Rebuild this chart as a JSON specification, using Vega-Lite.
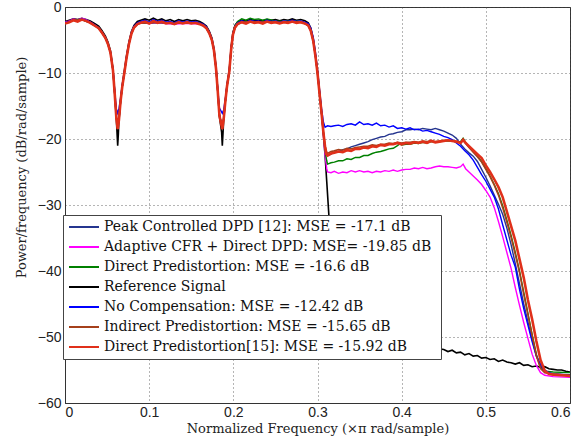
{
"$schema": "https://vega.github.io/schema/vega-lite/v6.json",
"width": 505, "height": 396,
"autosize": {"type": "none"},
"padding": {"left": 65, "top": 7, "right": 15, "bottom": 34},
"background": "white",
"config": {
 "view": {"stroke": "#333", "strokeWidth": 1},
 "axis": {"grid": true, "gridColor": "#444", "gridDash": [1, 3], "gridWidth": 0.8, "domainColor": "#333", "ticks": false,
  "labelFont": "Liberation Sans", "labelFontSize": 14, "labelColor": "#222",
  "titleFont": "DejaVu Serif", "titleFontSize": 13, "titleFontWeight": "normal", "titleColor": "#222"},
 "legend": {"fillColor": "white", "strokeColor": "#444", "padding": 5, "cornerRadius": 0, "symbolType": "stroke", "symbolSize": 900, "symbolStrokeWidth": 2, "clipHeight": 14, "rowPadding": 6, "labelFont": "DejaVu Serif", "labelFontSize": 14, "labelColor": "#111", "labelLimit": 600, "labelOffset": 4}
},
"datasets": {
 "black": [
  {"x":0,"y":-2.2},{"x":0.005,"y":-2.0},{"x":0.01,"y":-1.8},{"x":0.015,"y":-1.9},{"x":0.02,"y":-1.7},{"x":0.025,"y":-1.9},{"x":0.03,"y":-2.1},{"x":0.035,"y":-2.5},{"x":0.04,"y":-2.9},{"x":0.044,"y":-3.6},{"x":0.048,"y":-4.4},{"x":0.051,"y":-5.3},{"x":0.054,"y":-6.6},{"x":0.057,"y":-9.4},{"x":0.059,"y":-12.9},{"x":0.061,"y":-17.0},{"x":0.0618,"y":-19.0},{"x":0.0626,"y":-21.0},{"x":0.0634,"y":-19.2},{"x":0.064,"y":-17.4},{"x":0.066,"y":-14.2},{"x":0.068,"y":-11.9},{"x":0.0705,"y":-9.7},{"x":0.073,"y":-7.5},{"x":0.076,"y":-5.3},{"x":0.079,"y":-3.7},{"x":0.082,"y":-2.8},{"x":0.086,"y":-2.2},{"x":0.09,"y":-2.0},{"x":0.095,"y":-1.8},{"x":0.1,"y":-2.0},{"x":0.105,"y":-1.7},{"x":0.11,"y":-2.0},{"x":0.115,"y":-1.8},{"x":0.12,"y":-2.1},{"x":0.125,"y":-1.9},{"x":0.13,"y":-2.2},{"x":0.135,"y":-1.9},{"x":0.14,"y":-2.1},{"x":0.145,"y":-1.9},{"x":0.15,"y":-2.1},{"x":0.155,"y":-2.0},{"x":0.16,"y":-2.2},{"x":0.164,"y":-2.5},{"x":0.168,"y":-2.9},{"x":0.1715,"y":-3.7},{"x":0.1745,"y":-4.7},{"x":0.177,"y":-6.3},{"x":0.1795,"y":-9.2},{"x":0.1815,"y":-12.7},{"x":0.1835,"y":-16.6},{"x":0.1861,"y":-19.0},{"x":0.1869,"y":-21.0},{"x":0.1877,"y":-19.2},{"x":0.1885,"y":-17.2},{"x":0.1905,"y":-14.2},{"x":0.1925,"y":-11.8},{"x":0.1952,"y":-9.5},{"x":0.1975,"y":-6.0},{"x":0.1995,"y":-3.9},{"x":0.202,"y":-2.8},{"x":0.205,"y":-2.3},{"x":0.21,"y":-2.0},{"x":0.215,"y":-2.1},{"x":0.22,"y":-1.9},{"x":0.225,"y":-2.0},{"x":0.23,"y":-2.0},{"x":0.235,"y":-2.1},{"x":0.24,"y":-1.9},{"x":0.245,"y":-2.0},{"x":0.25,"y":-1.9},{"x":0.255,"y":-2.1},{"x":0.26,"y":-1.9},{"x":0.265,"y":-2.0},{"x":0.27,"y":-1.8},{"x":0.275,"y":-2.0},{"x":0.28,"y":-1.9},{"x":0.285,"y":-2.1},{"x":0.289,"y":-2.4},{"x":0.292,"y":-3.2},{"x":0.295,"y":-4.9},{"x":0.2975,"y":-7.2},{"x":0.3,"y":-9.8},{"x":0.3025,"y":-13.0},{"x":0.305,"y":-16.2},{"x":0.307,"y":-19.2},{"x":0.309,"y":-22.5},{"x":0.311,"y":-26.5},{"x":0.3135,"y":-31.5},{"x":0.3155,"y":-38},{"x":0.318,"y":-45},{"x":0.322,"y":-49},{"x":0.33,"y":-50.0},{"x":0.34,"y":-50.3},{"x":0.36,"y":-50.6},{"x":0.38,"y":-50.9},{"x":0.4,"y":-51.2},{"x":0.42,"y":-51.5},{"x":0.44,"y":-51.7},{"x":0.45,"y":-51.9},{"x":0.455,"y":-52.2},{"x":0.46,"y":-52.0},{"x":0.465,"y":-52.4},{"x":0.47,"y":-52.3},{"x":0.475,"y":-52.7},{"x":0.48,"y":-52.5},{"x":0.485,"y":-52.9},{"x":0.49,"y":-52.8},{"x":0.495,"y":-53.2},{"x":0.5,"y":-53.1},{"x":0.505,"y":-53.4},{"x":0.51,"y":-53.3},{"x":0.515,"y":-53.7},{"x":0.52,"y":-53.5},{"x":0.525,"y":-53.8},{"x":0.53,"y":-53.9},{"x":0.535,"y":-54.1},{"x":0.54,"y":-53.9},{"x":0.545,"y":-54.3},{"x":0.55,"y":-54.2},{"x":0.555,"y":-54.5},{"x":0.56,"y":-54.4},{"x":0.565,"y":-54.6},{"x":0.57,"y":-54.5},{"x":0.575,"y":-54.8},{"x":0.58,"y":-54.9},{"x":0.585,"y":-55.0},{"x":0.59,"y":-55.0},{"x":0.595,"y":-55.2},{"x":0.6,"y":-55.3}
 ],
 "magenta": [
  {"x":0,"y":-2.3},{"x":0.005,"y":-2.1},{"x":0.01,"y":-1.8},{"x":0.015,"y":-2.0},{"x":0.02,"y":-1.7},{"x":0.025,"y":-1.9},{"x":0.03,"y":-2.3},{"x":0.035,"y":-2.7},{"x":0.04,"y":-3.2},{"x":0.044,"y":-3.9},{"x":0.048,"y":-4.7},{"x":0.051,"y":-5.6},{"x":0.054,"y":-6.9},{"x":0.057,"y":-9.6},{"x":0.059,"y":-13.0},{"x":0.061,"y":-16.7},{"x":0.0626,"y":-18.3},{"x":0.064,"y":-17.1},{"x":0.066,"y":-14.3},{"x":0.068,"y":-12.1},{"x":0.0705,"y":-10.0},{"x":0.073,"y":-7.8},{"x":0.076,"y":-5.6},{"x":0.079,"y":-4.0},{"x":0.082,"y":-3.1},{"x":0.086,"y":-2.6},{"x":0.09,"y":-2.4},{"x":0.1,"y":-2.5},{"x":0.11,"y":-2.4},{"x":0.12,"y":-2.5},{"x":0.13,"y":-2.6},{"x":0.14,"y":-2.5},{"x":0.15,"y":-2.5},{"x":0.16,"y":-2.6},{"x":0.164,"y":-2.8},{"x":0.168,"y":-3.2},{"x":0.1715,"y":-4.0},{"x":0.1745,"y":-5.0},{"x":0.177,"y":-6.6},{"x":0.1795,"y":-9.4},{"x":0.1815,"y":-12.8},{"x":0.1835,"y":-16.4},{"x":0.1869,"y":-18.3},{"x":0.1885,"y":-16.9},{"x":0.1905,"y":-14.3},{"x":0.1925,"y":-12.0},{"x":0.1952,"y":-9.8},{"x":0.1975,"y":-6.3},{"x":0.1995,"y":-4.2},{"x":0.202,"y":-3.1},{"x":0.205,"y":-2.6},{"x":0.21,"y":-2.3},{"x":0.22,"y":-2.2},{"x":0.23,"y":-2.3},{"x":0.24,"y":-2.2},{"x":0.25,"y":-2.3},{"x":0.26,"y":-2.3},{"x":0.27,"y":-2.2},{"x":0.28,"y":-2.3},{"x":0.285,"y":-2.5},{"x":0.289,"y":-2.8},{"x":0.292,"y":-3.6},{"x":0.295,"y":-5.2},{"x":0.2975,"y":-7.4},{"x":0.3,"y":-10.0},{"x":0.3025,"y":-13.2},{"x":0.305,"y":-16.4},{"x":0.307,"y":-19.5},{"x":0.309,"y":-22.5},{"x":0.311,"y":-24.5},{"x":0.312,"y":-25.0},
  {"x":0.316,"y":-25.1},{"x":0.32,"y":-24.9},{"x":0.325,"y":-25.2},{"x":0.33,"y":-25.0},{"x":0.335,"y":-25.1},{"x":0.34,"y":-24.8},{"x":0.345,"y":-25.0},{"x":0.35,"y":-24.8},{"x":0.355,"y":-25.0},{"x":0.36,"y":-24.9},{"x":0.365,"y":-25.1},{"x":0.37,"y":-24.9},{"x":0.375,"y":-25.0},{"x":0.38,"y":-24.8},{"x":0.385,"y":-24.9},{"x":0.39,"y":-24.7},{"x":0.395,"y":-24.9},{"x":0.4,"y":-24.7},{"x":0.405,"y":-24.6},{"x":0.41,"y":-24.6},{"x":0.415,"y":-24.4},{"x":0.42,"y":-24.5},{"x":0.425,"y":-24.3},{"x":0.43,"y":-24.5},{"x":0.435,"y":-24.4},{"x":0.44,"y":-24.2},{"x":0.445,"y":-24.1},{"x":0.45,"y":-24.2},{"x":0.455,"y":-24.2},{"x":0.46,"y":-24.3},{"x":0.465,"y":-24.4},{"x":0.47,"y":-24.2},{"x":0.473,"y":-23.8},{"x":0.476,"y":-24.5},{"x":0.48,"y":-25.0},{"x":0.485,"y":-25.6},{"x":0.49,"y":-26.2},{"x":0.495,"y":-26.9},{"x":0.5,"y":-27.8},{"x":0.505,"y":-28.8},{"x":0.51,"y":-30.4},{"x":0.515,"y":-32.5},{"x":0.52,"y":-34.8},{"x":0.525,"y":-37.2},{"x":0.53,"y":-39.6},{"x":0.535,"y":-42.5},{"x":0.54,"y":-45.2},{"x":0.545,"y":-47.8},{"x":0.55,"y":-50.2},{"x":0.555,"y":-52.6},{"x":0.56,"y":-54.3},{"x":0.565,"y":-55.4},{"x":0.57,"y":-55.8},{"x":0.58,"y":-56.0},{"x":0.6,"y":-56.1}
 ],
 "green": [
  {"x":0,"y":-2.5},{"x":0.01,"y":-2.0},{"x":0.02,"y":-1.9},{"x":0.03,"y":-2.4},{"x":0.035,"y":-2.8},{"x":0.04,"y":-3.2},{"x":0.044,"y":-3.9},{"x":0.048,"y":-4.7},{"x":0.051,"y":-5.6},{"x":0.054,"y":-6.9},{"x":0.057,"y":-9.6},{"x":0.059,"y":-13.0},{"x":0.061,"y":-16.7},{"x":0.0626,"y":-18.3},{"x":0.064,"y":-17.1},{"x":0.066,"y":-14.3},{"x":0.068,"y":-12.1},{"x":0.0705,"y":-10.0},{"x":0.073,"y":-7.8},{"x":0.076,"y":-5.6},{"x":0.079,"y":-4.0},{"x":0.082,"y":-3.1},{"x":0.086,"y":-2.6},{"x":0.09,"y":-2.4},{"x":0.1,"y":-2.4},{"x":0.11,"y":-2.3},{"x":0.12,"y":-2.4},{"x":0.13,"y":-2.5},{"x":0.14,"y":-2.4},{"x":0.15,"y":-2.4},{"x":0.16,"y":-2.5},{"x":0.164,"y":-2.8},{"x":0.168,"y":-3.2},{"x":0.1715,"y":-4.0},{"x":0.1745,"y":-5.0},{"x":0.177,"y":-6.6},{"x":0.1795,"y":-9.4},{"x":0.1815,"y":-12.8},{"x":0.1835,"y":-16.4},{"x":0.1869,"y":-18.3},{"x":0.1885,"y":-16.9},{"x":0.1905,"y":-14.3},{"x":0.1925,"y":-12.0},{"x":0.1952,"y":-9.8},{"x":0.1975,"y":-6.2},{"x":0.1995,"y":-4.0},{"x":0.202,"y":-2.8},{"x":0.205,"y":-2.2},{"x":0.21,"y":-1.8},{"x":0.215,"y":-2.0},{"x":0.22,"y":-1.7},{"x":0.225,"y":-1.9},{"x":0.23,"y":-1.8},{"x":0.235,"y":-2.0},{"x":0.24,"y":-1.8},{"x":0.25,"y":-2.1},{"x":0.26,"y":-2.2},{"x":0.27,"y":-2.1},{"x":0.28,"y":-2.2},{"x":0.285,"y":-2.4},{"x":0.289,"y":-2.7},{"x":0.292,"y":-3.5},{"x":0.295,"y":-5.1},{"x":0.2975,"y":-7.3},{"x":0.3,"y":-9.9},{"x":0.3025,"y":-13.1},{"x":0.305,"y":-16.3},{"x":0.307,"y":-19.2},{"x":0.309,"y":-21.8},{"x":0.311,"y":-23.3},{"x":0.312,"y":-23.8},
  {"x":0.316,"y":-23.6},{"x":0.32,"y":-23.5},{"x":0.325,"y":-23.3},{"x":0.33,"y":-23.3},{"x":0.335,"y":-23.0},{"x":0.34,"y":-23.1},{"x":0.345,"y":-22.8},{"x":0.35,"y":-22.8},{"x":0.355,"y":-22.5},{"x":0.36,"y":-22.5},{"x":0.365,"y":-22.2},{"x":0.37,"y":-22.0},{"x":0.375,"y":-21.9},{"x":0.38,"y":-21.7},{"x":0.385,"y":-21.5},{"x":0.39,"y":-21.4},{"x":0.395,"y":-21.0},{"x":0.398,"y":-20.7},{"x":0.4,"y":-20.9},{"x":0.405,"y":-20.8},{"x":0.41,"y":-20.8},{"x":0.415,"y":-20.6},{"x":0.42,"y":-20.7},{"x":0.425,"y":-20.5},{"x":0.43,"y":-20.6},{"x":0.435,"y":-20.4},{"x":0.44,"y":-20.5},{"x":0.445,"y":-20.4},{"x":0.45,"y":-20.3},{"x":0.455,"y":-20.3},{"x":0.46,"y":-20.3},{"x":0.465,"y":-20.4},{"x":0.47,"y":-20.4},{"x":0.473,"y":-19.9},{"x":0.476,"y":-20.5},{"x":0.48,"y":-21.2},{"x":0.485,"y":-21.9},{"x":0.49,"y":-22.6},{"x":0.495,"y":-23.4},{"x":0.5,"y":-24.5},{"x":0.505,"y":-25.6},{"x":0.51,"y":-26.9},{"x":0.515,"y":-28.3},{"x":0.52,"y":-30.1},{"x":0.525,"y":-32.3},{"x":0.53,"y":-34.6},{"x":0.535,"y":-37.2},{"x":0.54,"y":-40.0},{"x":0.545,"y":-43.2},{"x":0.55,"y":-46.4},{"x":0.555,"y":-49.6},{"x":0.56,"y":-52.6},{"x":0.565,"y":-54.6},{"x":0.57,"y":-55.2},{"x":0.58,"y":-55.3},{"x":0.6,"y":-55.4}
 ],
 "navy": [
  {"x":0,"y":-2.5},{"x":0.01,"y":-2.0},{"x":0.02,"y":-1.9},{"x":0.03,"y":-2.4},{"x":0.035,"y":-2.8},{"x":0.04,"y":-3.2},{"x":0.044,"y":-3.9},{"x":0.048,"y":-4.7},{"x":0.051,"y":-5.6},{"x":0.054,"y":-6.9},{"x":0.057,"y":-9.6},{"x":0.059,"y":-13.0},{"x":0.061,"y":-16.7},{"x":0.0626,"y":-18.3},{"x":0.064,"y":-17.1},{"x":0.066,"y":-14.3},{"x":0.068,"y":-12.1},{"x":0.0705,"y":-10.0},{"x":0.073,"y":-7.8},{"x":0.076,"y":-5.6},{"x":0.079,"y":-4.0},{"x":0.082,"y":-3.1},{"x":0.086,"y":-2.6},{"x":0.09,"y":-2.4},{"x":0.1,"y":-2.4},{"x":0.11,"y":-2.3},{"x":0.12,"y":-2.4},{"x":0.13,"y":-2.5},{"x":0.14,"y":-2.4},{"x":0.15,"y":-2.4},{"x":0.16,"y":-2.5},{"x":0.164,"y":-2.8},{"x":0.168,"y":-3.2},{"x":0.1715,"y":-4.0},{"x":0.1745,"y":-5.0},{"x":0.177,"y":-6.6},{"x":0.1795,"y":-9.4},{"x":0.1815,"y":-12.8},{"x":0.1835,"y":-16.4},{"x":0.1869,"y":-18.3},{"x":0.1885,"y":-16.9},{"x":0.1905,"y":-14.3},{"x":0.1925,"y":-12.0},{"x":0.1952,"y":-9.8},{"x":0.1975,"y":-6.3},{"x":0.1995,"y":-4.2},{"x":0.202,"y":-3.1},{"x":0.205,"y":-2.6},{"x":0.21,"y":-2.3},{"x":0.22,"y":-2.2},{"x":0.23,"y":-2.3},{"x":0.24,"y":-2.2},{"x":0.25,"y":-2.3},{"x":0.26,"y":-2.3},{"x":0.27,"y":-2.2},{"x":0.28,"y":-2.3},{"x":0.285,"y":-2.5},{"x":0.289,"y":-2.8},{"x":0.292,"y":-3.6},{"x":0.295,"y":-5.2},{"x":0.2975,"y":-7.4},{"x":0.3,"y":-10.0},{"x":0.3025,"y":-13.2},{"x":0.305,"y":-16.3},{"x":0.307,"y":-19.0},{"x":0.309,"y":-21.3},{"x":0.311,"y":-22.4},{"x":0.312,"y":-22.5},
  {"x":0.316,"y":-22.3},{"x":0.32,"y":-22.0},{"x":0.325,"y":-21.9},{"x":0.33,"y":-21.6},{"x":0.335,"y":-21.5},{"x":0.34,"y":-21.2},{"x":0.345,"y":-21.0},{"x":0.35,"y":-20.8},{"x":0.355,"y":-20.6},{"x":0.36,"y":-20.4},{"x":0.365,"y":-20.1},{"x":0.37,"y":-19.9},{"x":0.375,"y":-19.7},{"x":0.38,"y":-19.6},{"x":0.385,"y":-19.3},{"x":0.39,"y":-19.2},{"x":0.395,"y":-19.0},{"x":0.4,"y":-18.9},{"x":0.405,"y":-18.6},{"x":0.41,"y":-18.6},{"x":0.415,"y":-18.5},{"x":0.42,"y":-18.6},{"x":0.425,"y":-18.4},{"x":0.43,"y":-18.5},{"x":0.435,"y":-18.6},{"x":0.44,"y":-18.4},{"x":0.445,"y":-18.6},{"x":0.45,"y":-18.8},{"x":0.455,"y":-19.1},{"x":0.46,"y":-19.4},{"x":0.465,"y":-19.9},{"x":0.47,"y":-20.8},{"x":0.475,"y":-21.5},{"x":0.48,"y":-22.1},{"x":0.485,"y":-22.6},{"x":0.49,"y":-23.4},{"x":0.495,"y":-24.6},{"x":0.5,"y":-25.8},{"x":0.505,"y":-27.1},{"x":0.51,"y":-28.5},{"x":0.515,"y":-29.9},{"x":0.52,"y":-31.4},{"x":0.525,"y":-33.5},{"x":0.53,"y":-36.0},{"x":0.535,"y":-38.9},{"x":0.54,"y":-41.9},{"x":0.545,"y":-45.0},{"x":0.55,"y":-47.7},{"x":0.555,"y":-50.4},{"x":0.56,"y":-52.8},{"x":0.565,"y":-54.5},{"x":0.57,"y":-55.3},{"x":0.58,"y":-55.6},{"x":0.6,"y":-55.7}
 ],
 "blue": [
  {"x":0,"y":-2.4},{"x":0.005,"y":-2.2},{"x":0.01,"y":-1.9},{"x":0.015,"y":-2.1},{"x":0.02,"y":-1.8},{"x":0.025,"y":-2.0},{"x":0.03,"y":-2.3},{"x":0.035,"y":-2.7},{"x":0.04,"y":-3.1},{"x":0.044,"y":-3.8},{"x":0.048,"y":-4.6},{"x":0.051,"y":-5.5},{"x":0.054,"y":-6.8},{"x":0.057,"y":-9.4},{"x":0.059,"y":-12.6},{"x":0.061,"y":-15.4},{"x":0.0626,"y":-16.1},{"x":0.064,"y":-15.5},{"x":0.066,"y":-13.8},{"x":0.068,"y":-11.8},{"x":0.0705,"y":-9.8},{"x":0.073,"y":-7.6},{"x":0.076,"y":-5.4},{"x":0.079,"y":-3.8},{"x":0.082,"y":-2.9},{"x":0.086,"y":-2.4},{"x":0.09,"y":-2.2},{"x":0.095,"y":-2.0},{"x":0.1,"y":-2.3},{"x":0.105,"y":-1.9},{"x":0.11,"y":-2.2},{"x":0.115,"y":-2.0},{"x":0.12,"y":-2.3},{"x":0.125,"y":-2.2},{"x":0.13,"y":-2.4},{"x":0.135,"y":-2.1},{"x":0.14,"y":-2.3},{"x":0.145,"y":-2.1},{"x":0.15,"y":-2.3},{"x":0.155,"y":-2.2},{"x":0.16,"y":-2.4},{"x":0.164,"y":-2.6},{"x":0.168,"y":-3.0},{"x":0.1715,"y":-3.8},{"x":0.1745,"y":-4.8},{"x":0.177,"y":-6.4},{"x":0.1795,"y":-9.2},{"x":0.1815,"y":-12.4},{"x":0.1835,"y":-15.3},{"x":0.1869,"y":-16.1},{"x":0.1885,"y":-15.6},{"x":0.1905,"y":-13.9},{"x":0.1925,"y":-11.8},{"x":0.1952,"y":-9.6},{"x":0.1975,"y":-6.1},{"x":0.1995,"y":-4.0},{"x":0.202,"y":-2.9},{"x":0.205,"y":-2.4},{"x":0.21,"y":-2.1},{"x":0.215,"y":-2.3},{"x":0.22,"y":-2.0},{"x":0.225,"y":-2.2},{"x":0.23,"y":-2.1},{"x":0.235,"y":-2.3},{"x":0.24,"y":-2.0},{"x":0.245,"y":-2.2},{"x":0.25,"y":-2.1},{"x":0.255,"y":-2.3},{"x":0.26,"y":-2.1},{"x":0.265,"y":-2.2},{"x":0.27,"y":-2.0},{"x":0.275,"y":-2.2},{"x":0.28,"y":-2.1},{"x":0.285,"y":-2.3},{"x":0.289,"y":-2.5},{"x":0.292,"y":-3.2},{"x":0.295,"y":-4.6},{"x":0.2975,"y":-6.8},{"x":0.3,"y":-9.5},{"x":0.3025,"y":-12.6},{"x":0.305,"y":-15.6},{"x":0.307,"y":-17.4},{"x":0.309,"y":-18.2},
  {"x":0.312,"y":-18.0},{"x":0.316,"y":-18.1},{"x":0.32,"y":-18.0},{"x":0.325,"y":-17.9},{"x":0.33,"y":-18.1},{"x":0.335,"y":-17.8},{"x":0.34,"y":-17.7},{"x":0.345,"y":-17.9},{"x":0.35,"y":-17.4},{"x":0.355,"y":-17.8},{"x":0.36,"y":-17.7},{"x":0.365,"y":-17.9},{"x":0.37,"y":-17.6},{"x":0.375,"y":-18.0},{"x":0.38,"y":-17.9},{"x":0.385,"y":-18.2},{"x":0.39,"y":-18.0},{"x":0.395,"y":-18.4},{"x":0.4,"y":-18.3},{"x":0.405,"y":-18.5},{"x":0.41,"y":-18.3},{"x":0.415,"y":-18.6},{"x":0.42,"y":-18.5},{"x":0.425,"y":-18.8},{"x":0.43,"y":-18.7},{"x":0.435,"y":-18.9},{"x":0.44,"y":-19.1},{"x":0.445,"y":-19.3},{"x":0.45,"y":-19.6},{"x":0.455,"y":-19.8},{"x":0.46,"y":-20.1},{"x":0.465,"y":-20.6},{"x":0.47,"y":-21.1},{"x":0.475,"y":-21.8},{"x":0.48,"y":-22.4},{"x":0.485,"y":-23.2},{"x":0.49,"y":-24.3},{"x":0.495,"y":-25.4},{"x":0.5,"y":-26.4},{"x":0.505,"y":-27.6},{"x":0.51,"y":-28.8},{"x":0.515,"y":-30.6},{"x":0.52,"y":-33.0},{"x":0.525,"y":-35.3},{"x":0.53,"y":-37.6},{"x":0.535,"y":-39.4},{"x":0.54,"y":-42.8},{"x":0.545,"y":-45.7},{"x":0.55,"y":-48.2},{"x":0.555,"y":-50.7},{"x":0.56,"y":-52.9},{"x":0.565,"y":-54.1},{"x":0.57,"y":-55.0},{"x":0.575,"y":-55.4},{"x":0.58,"y":-55.6},{"x":0.6,"y":-55.8}
 ],
 "brown": [
  {"x":0,"y":-2.5},{"x":0.01,"y":-2.0},{"x":0.02,"y":-1.9},{"x":0.03,"y":-2.4},{"x":0.035,"y":-2.8},{"x":0.04,"y":-3.2},{"x":0.044,"y":-3.9},{"x":0.048,"y":-4.7},{"x":0.051,"y":-5.6},{"x":0.054,"y":-6.9},{"x":0.057,"y":-9.6},{"x":0.059,"y":-13.0},{"x":0.061,"y":-16.7},{"x":0.0626,"y":-18.3},{"x":0.064,"y":-17.1},{"x":0.066,"y":-14.3},{"x":0.068,"y":-12.1},{"x":0.0705,"y":-10.0},{"x":0.073,"y":-7.8},{"x":0.076,"y":-5.6},{"x":0.079,"y":-4.0},{"x":0.082,"y":-3.1},{"x":0.086,"y":-2.6},{"x":0.09,"y":-2.4},{"x":0.1,"y":-2.4},{"x":0.11,"y":-2.3},{"x":0.12,"y":-2.4},{"x":0.13,"y":-2.5},{"x":0.14,"y":-2.4},{"x":0.15,"y":-2.4},{"x":0.16,"y":-2.5},{"x":0.164,"y":-2.8},{"x":0.168,"y":-3.2},{"x":0.1715,"y":-4.0},{"x":0.1745,"y":-5.0},{"x":0.177,"y":-6.6},{"x":0.1795,"y":-9.4},{"x":0.1815,"y":-12.8},{"x":0.1835,"y":-16.4},{"x":0.1869,"y":-18.3},{"x":0.1885,"y":-16.9},{"x":0.1905,"y":-14.3},{"x":0.1925,"y":-12.0},{"x":0.1952,"y":-9.8},{"x":0.1975,"y":-6.3},{"x":0.1995,"y":-4.2},{"x":0.202,"y":-3.1},{"x":0.205,"y":-2.6},{"x":0.21,"y":-2.3},{"x":0.22,"y":-2.2},{"x":0.23,"y":-2.3},{"x":0.24,"y":-2.2},{"x":0.25,"y":-2.3},{"x":0.26,"y":-2.3},{"x":0.27,"y":-2.2},{"x":0.28,"y":-2.3},{"x":0.285,"y":-2.5},{"x":0.289,"y":-2.8},{"x":0.292,"y":-3.6},{"x":0.295,"y":-5.2},{"x":0.2975,"y":-7.4},{"x":0.3,"y":-10.0},{"x":0.3025,"y":-13.2},{"x":0.305,"y":-16.3},{"x":0.307,"y":-18.9},{"x":0.309,"y":-21.0},{"x":0.311,"y":-22.0},{"x":0.312,"y":-22.2},
  {"x":0.316,"y":-21.9},{"x":0.32,"y":-21.8},{"x":0.325,"y":-21.6},{"x":0.33,"y":-21.7},{"x":0.335,"y":-21.4},{"x":0.34,"y":-21.5},{"x":0.345,"y":-21.3},{"x":0.35,"y":-21.2},{"x":0.355,"y":-21.1},{"x":0.36,"y":-21.1},{"x":0.365,"y":-20.9},{"x":0.37,"y":-21.0},{"x":0.375,"y":-20.8},{"x":0.38,"y":-20.8},{"x":0.385,"y":-20.6},{"x":0.39,"y":-20.7},{"x":0.395,"y":-20.5},{"x":0.4,"y":-20.6},{"x":0.405,"y":-20.5},{"x":0.41,"y":-20.5},{"x":0.415,"y":-20.4},{"x":0.42,"y":-20.5},{"x":0.425,"y":-20.3},{"x":0.43,"y":-20.4},{"x":0.435,"y":-20.2},{"x":0.44,"y":-20.4},{"x":0.445,"y":-20.3},{"x":0.45,"y":-20.2},{"x":0.455,"y":-20.2},{"x":0.46,"y":-20.3},{"x":0.465,"y":-20.4},{"x":0.47,"y":-20.6},{"x":0.473,"y":-20.2},{"x":0.476,"y":-20.7},{"x":0.48,"y":-21.3},{"x":0.485,"y":-22.0},{"x":0.49,"y":-22.7},{"x":0.495,"y":-23.5},{"x":0.5,"y":-24.6},{"x":0.505,"y":-25.7},{"x":0.51,"y":-27.0},{"x":0.515,"y":-28.5},{"x":0.52,"y":-30.4},{"x":0.525,"y":-32.6},{"x":0.53,"y":-34.9},{"x":0.535,"y":-37.5},{"x":0.54,"y":-40.2},{"x":0.545,"y":-43.5},{"x":0.55,"y":-46.6},{"x":0.555,"y":-49.8},{"x":0.56,"y":-52.8},{"x":0.565,"y":-54.8},{"x":0.57,"y":-55.4},{"x":0.58,"y":-55.6},{"x":0.6,"y":-55.8}
 ],
 "red": [
  {"x":0,"y":-2.5},{"x":0.005,"y":-2.3},{"x":0.01,"y":-2.0},{"x":0.015,"y":-2.2},{"x":0.02,"y":-1.9},{"x":0.025,"y":-2.1},{"x":0.03,"y":-2.4},{"x":0.035,"y":-2.8},{"x":0.04,"y":-3.2},{"x":0.044,"y":-3.9},{"x":0.048,"y":-4.7},{"x":0.051,"y":-5.6},{"x":0.054,"y":-6.9},{"x":0.057,"y":-9.6},{"x":0.059,"y":-13.0},{"x":0.061,"y":-16.8},{"x":0.0626,"y":-18.5},{"x":0.064,"y":-17.2},{"x":0.066,"y":-14.3},{"x":0.068,"y":-12.1},{"x":0.0705,"y":-10.0},{"x":0.073,"y":-7.8},{"x":0.076,"y":-5.6},{"x":0.079,"y":-4.0},{"x":0.082,"y":-3.1},{"x":0.086,"y":-2.6},{"x":0.09,"y":-2.4},{"x":0.095,"y":-2.2},{"x":0.1,"y":-2.5},{"x":0.105,"y":-2.1},{"x":0.11,"y":-2.4},{"x":0.115,"y":-2.2},{"x":0.12,"y":-2.5},{"x":0.125,"y":-2.4},{"x":0.13,"y":-2.6},{"x":0.135,"y":-2.3},{"x":0.14,"y":-2.5},{"x":0.145,"y":-2.3},{"x":0.15,"y":-2.5},{"x":0.155,"y":-2.4},{"x":0.16,"y":-2.6},{"x":0.164,"y":-2.8},{"x":0.168,"y":-3.2},{"x":0.1715,"y":-4.0},{"x":0.1745,"y":-5.0},{"x":0.177,"y":-6.6},{"x":0.1795,"y":-9.4},{"x":0.1815,"y":-12.8},{"x":0.1835,"y":-16.5},{"x":0.1869,"y":-18.5},{"x":0.1885,"y":-17.0},{"x":0.1905,"y":-14.3},{"x":0.1925,"y":-12.0},{"x":0.1952,"y":-9.8},{"x":0.1975,"y":-6.3},{"x":0.1995,"y":-4.2},{"x":0.202,"y":-3.1},{"x":0.205,"y":-2.6},{"x":0.21,"y":-2.3},{"x":0.215,"y":-2.5},{"x":0.22,"y":-2.2},{"x":0.225,"y":-2.4},{"x":0.23,"y":-2.3},{"x":0.235,"y":-2.5},{"x":0.24,"y":-2.2},{"x":0.245,"y":-2.4},{"x":0.25,"y":-2.3},{"x":0.255,"y":-2.5},{"x":0.26,"y":-2.3},{"x":0.265,"y":-2.4},{"x":0.27,"y":-2.2},{"x":0.275,"y":-2.4},{"x":0.28,"y":-2.3},{"x":0.285,"y":-2.5},{"x":0.289,"y":-2.8},{"x":0.292,"y":-3.6},{"x":0.295,"y":-5.2},{"x":0.2975,"y":-7.4},{"x":0.3,"y":-10.0},{"x":0.3025,"y":-13.2},{"x":0.305,"y":-16.3},{"x":0.307,"y":-19.0},{"x":0.309,"y":-21.2},{"x":0.3105,"y":-22.3},{"x":0.312,"y":-22.5},
  {"x":0.316,"y":-22.2},{"x":0.32,"y":-22.1},{"x":0.325,"y":-21.9},{"x":0.33,"y":-22.0},{"x":0.335,"y":-21.7},{"x":0.34,"y":-21.8},{"x":0.345,"y":-21.5},{"x":0.35,"y":-21.5},{"x":0.355,"y":-21.3},{"x":0.36,"y":-21.4},{"x":0.365,"y":-21.1},{"x":0.37,"y":-21.2},{"x":0.375,"y":-20.9},{"x":0.38,"y":-21.0},{"x":0.385,"y":-20.8},{"x":0.39,"y":-20.8},{"x":0.395,"y":-20.6},{"x":0.4,"y":-20.8},{"x":0.405,"y":-20.6},{"x":0.41,"y":-20.7},{"x":0.415,"y":-20.5},{"x":0.42,"y":-20.6},{"x":0.425,"y":-20.4},{"x":0.43,"y":-20.6},{"x":0.435,"y":-20.3},{"x":0.44,"y":-20.5},{"x":0.445,"y":-20.4},{"x":0.45,"y":-20.3},{"x":0.455,"y":-20.2},{"x":0.46,"y":-20.3},{"x":0.465,"y":-20.4},{"x":0.47,"y":-20.6},{"x":0.473,"y":-20.1},{"x":0.476,"y":-20.6},{"x":0.48,"y":-21.1},{"x":0.485,"y":-21.7},{"x":0.49,"y":-22.3},{"x":0.495,"y":-22.9},{"x":0.5,"y":-24.0},{"x":0.505,"y":-25.0},{"x":0.51,"y":-26.1},{"x":0.515,"y":-27.3},{"x":0.52,"y":-28.8},{"x":0.525,"y":-31.0},{"x":0.53,"y":-33.2},{"x":0.535,"y":-35.4},{"x":0.54,"y":-38.2},{"x":0.545,"y":-41.0},{"x":0.55,"y":-44.4},{"x":0.555,"y":-47.3},{"x":0.56,"y":-50.6},{"x":0.565,"y":-53.5},{"x":0.57,"y":-55.1},{"x":0.575,"y":-55.6},{"x":0.58,"y":-55.7},{"x":0.59,"y":-55.8},{"x":0.6,"y":-55.9}
 ]
},
"encoding": {
 "x": {"field": "x", "type": "quantitative", "scale": {"domain": [0, 0.6], "nice": false, "zero": false},
  "axis": {"values": [0, 0.1, 0.2, 0.3, 0.4, 0.5, 0.6], "format": ".1~f", "title": "Normalized Frequency (×π rad/sample)", "labelPadding": 2, "titlePadding": 3}},
 "y": {"field": "y", "type": "quantitative", "scale": {"domain": [-60, 0], "nice": false, "zero": false},
  "axis": {"values": [-60, -50, -40, -30, -20, -10, 0], "format": "d", "title": "Power/frequency (dB/rad/sample)", "labelPadding": 4, "titleX": -44, "titleY": 160, "titleBaseline": "middle", "titleAngle": 270}}
},
"layer": [
 {"data": {"name": "black"}, "mark": {"type": "line", "strokeWidth": 1.6, "clip": true},
  "encoding": {"color": {"datum": "Reference Signal", "type": "nominal",
   "scale": {"domain": ["Peak Controlled DPD [12]:  MSE = -17.1 dB", "Adaptive CFR + Direct DPD:  MSE= -19.85 dB", "Direct Predistortion:  MSE = -16.6 dB", "Reference Signal", "No Compensation:  MSE = -12.42 dB", "Indirect Predistortion:  MSE = -15.65 dB", "Direct Predistortion[15]:  MSE = -15.92 dB"],
    "range": ["#25358f", "#ff00ff", "#008000", "#000000", "#0000ff", "#a5401b", "#e0301a"]},
   "legend": {"title": null, "orient": "none", "legendX": -2, "legendY": 208}}}},
 {"data": {"name": "magenta"}, "mark": {"type": "line", "strokeWidth": 1.4, "clip": true},
  "encoding": {"color": {"datum": "Adaptive CFR + Direct DPD:  MSE= -19.85 dB", "type": "nominal"}}},
 {"data": {"name": "green"}, "mark": {"type": "line", "strokeWidth": 1.4, "clip": true},
  "encoding": {"color": {"datum": "Direct Predistortion:  MSE = -16.6 dB", "type": "nominal"}}},
 {"data": {"name": "navy"}, "mark": {"type": "line", "strokeWidth": 1.4, "clip": true},
  "encoding": {"color": {"datum": "Peak Controlled DPD [12]:  MSE = -17.1 dB", "type": "nominal"}}},
 {"data": {"name": "blue"}, "mark": {"type": "line", "strokeWidth": 1.4, "clip": true},
  "encoding": {"color": {"datum": "No Compensation:  MSE = -12.42 dB", "type": "nominal"}}},
 {"data": {"name": "brown"}, "mark": {"type": "line", "strokeWidth": 1.6, "clip": true},
  "encoding": {"color": {"datum": "Indirect Predistortion:  MSE = -15.65 dB", "type": "nominal"}}},
 {"data": {"name": "red"}, "mark": {"type": "line", "strokeWidth": 2.6, "clip": true},
  "encoding": {"color": {"datum": "Direct Predistortion[15]:  MSE = -15.92 dB", "type": "nominal"}}}
]
}
